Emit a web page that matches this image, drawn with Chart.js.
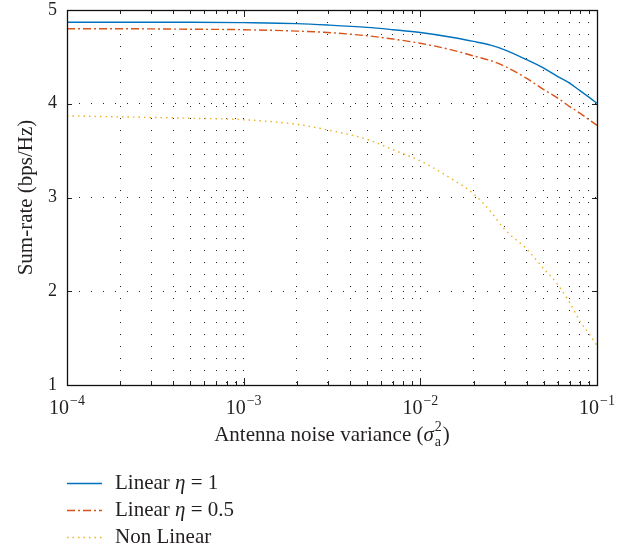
<!DOCTYPE html>
<html>
<head>
<meta charset="utf-8">
<script src="https://cdn.jsdelivr.net/npm/chart.js@4/dist/chart.umd.min.js"></script>
<style>
  body { margin: 0; background: #fff; }
  canvas { display: block; }
</style>
</head>
<body>
<canvas id="rateChart" width="632" height="548"></canvas>
<script>
// Antenna noise variance (x, log scale)
const noiseVar = [1e-4, 2e-4, 5e-4, 1e-3, 2e-3, 3e-3, 5e-3, 7e-3, 1e-2, 1.5e-2, 2e-2, 2.5e-2, 3e-2, 4e-2, 5e-2, 6e-2, 7e-2, 8e-2, 9e-2, 1e-1];

// Sum-rate (bps/Hz)
const rateLinear1  = [4.87, 4.87, 4.87, 4.865, 4.855, 4.84, 4.815, 4.79, 4.76, 4.71, 4.665, 4.625, 4.575, 4.47, 4.38, 4.29, 4.22, 4.14, 4.07, 4.005];
const rateLinear05 = [4.80, 4.80, 4.795, 4.79, 4.775, 4.76, 4.725, 4.69, 4.645, 4.575, 4.51, 4.46, 4.40, 4.27, 4.15, 4.06, 3.97, 3.90, 3.83, 3.77];
const rateNonLin   = [3.87, 3.86, 3.845, 3.83, 3.78, 3.72, 3.62, 3.51, 3.39, 3.20, 3.04, 2.85, 2.66, 2.45, 2.24, 2.07, 1.88, 1.68, 1.55, 1.42];

const xTickExps = [-4, -3, -2, -1];
const yTicks = [1, 2, 3, 4, 5];

const TEXT = '#231f20';
const SERIF = "'Liberation Serif', 'DejaVu Serif', serif";

function toPoints(ys){
  return noiseVar.map((x, i) => ({ x: x, y: ys[i] }));
}

// all decade ticks 1..9 x 10^n
function buildLogTicks(){
  const ticks = [];
  for (let e = -4; e < -1; e++) {
    for (let m = 1; m <= 9; m++) ticks.push({ value: m * Math.pow(10, e), major: m === 1 });
  }
  ticks.push({ value: 1e-1, major: true });
  return ticks;
}

// frame, inside ticks, x labels with superscripts, x title and legend
const decorPlugin = {
  id: 'decor',
  afterDraw(chart){
    const ctx = chart.ctx;
    const a = chart.chartArea;
    const xs = chart.scales.x, ys = chart.scales.y;
    ctx.save();

    // ticks
    ctx.strokeStyle = '#222';
    ctx.lineWidth = 1;
    ctx.beginPath();
    buildLogTicks().forEach(t => {
      const px = Math.round(xs.getPixelForValue(t.value)) + 0.5;
      const len = t.major ? 7 : 4;
      ctx.moveTo(px, a.bottom); ctx.lineTo(px, a.bottom - len);
      ctx.moveTo(px, a.top); ctx.lineTo(px, a.top + len);
    });
    yTicks.forEach(v => {
      const py = Math.round(ys.getPixelForValue(v)) + 0.5;
      ctx.moveTo(a.left, py); ctx.lineTo(a.left + 5, py);
      ctx.moveTo(a.right, py); ctx.lineTo(a.right - 5, py);
    });
    ctx.stroke();

    // frame
    ctx.lineWidth = 1.3;
    ctx.strokeStyle = '#111';
    ctx.strokeRect(Math.round(a.left) + 0.5, Math.round(a.top) + 0.5,
                   Math.round(a.right - a.left), Math.round(a.bottom - a.top));

    // x tick labels 10^n
    ctx.fillStyle = TEXT;
    ctx.textBaseline = 'alphabetic';
    ctx.textAlign = 'left';
    xTickExps.forEach(e => {
      const px = xs.getPixelForValue(Math.pow(10, e));
      ctx.font = '20px ' + SERIF;
      const wBase = ctx.measureText('10').width;
      ctx.font = '14px ' + SERIF;
      const sup = '\u2212' + Math.abs(e);
      const wSup = ctx.measureText(sup).width;
      const x0 = px - (wBase + wSup + 1) / 2;
      ctx.font = '20px ' + SERIF;
      ctx.fillText('10', x0, 414);
      ctx.font = '14px ' + SERIF;
      ctx.fillText(sup, x0 + wBase + 1, 405);
    });

    // x title: Antenna noise variance (sigma_a^2)
    const cx = (a.left + a.right) / 2;
    const base = 441;
    ctx.font = '21px ' + SERIF;
    const p1 = 'Antenna noise variance (';
    const w1 = ctx.measureText(p1).width;
    ctx.font = 'italic 21px ' + SERIF;
    const wSig = ctx.measureText('\u03c3').width;
    ctx.font = '14px ' + SERIF;
    const wSub = Math.max(ctx.measureText('2').width, ctx.measureText('a').width);
    ctx.font = '21px ' + SERIF;
    const wP = ctx.measureText(')').width;
    let x = cx - (w1 + wSig + wSub + 2 + wP) / 2;
    ctx.fillText(p1, x, base); x += w1;
    ctx.font = 'italic 21px ' + SERIF;
    ctx.fillText('\u03c3', x, base); x += wSig + 1;
    ctx.font = '14px ' + SERIF;
    ctx.fillText('2', x, base - 10);
    ctx.fillText('a', x, base + 5); x += wSub + 1;
    ctx.font = '21px ' + SERIF;
    ctx.fillText(')', x, base);

    // legend
    const rows = [
      { ds: 0, parts: [['Linear ', ''], ['\u03b7', 'italic '], [' = 1', '']] },
      { ds: 1, parts: [['Linear ', ''], ['\u03b7', 'italic '], [' = 0.5', '']] },
      { ds: 2, parts: [['Non Linear', '']] }
    ];
    rows.forEach((r, i) => {
      const d = chart.data.datasets[r.ds];
      const y = 483 + i * 27;
      ctx.strokeStyle = d.borderColor;
      ctx.lineWidth = d.borderWidth;
      ctx.setLineDash(d.borderDash || []);
      ctx.beginPath();
      ctx.moveTo(67, y + 0.5); ctx.lineTo(102, y + 0.5);
      ctx.stroke();
      ctx.setLineDash([]);
      ctx.fillStyle = TEXT;
      let tx = 115;
      r.parts.forEach(([txt, style]) => {
        ctx.font = style + '21px ' + SERIF;
        ctx.fillText(txt, tx, y + 6);
        tx += ctx.measureText(txt).width;
      });
    });

    ctx.restore();
  }
};

function renderChart(){
  const ctx = document.getElementById('rateChart').getContext('2d');
  new Chart(ctx, {
    type: 'line',
    data: {
      datasets: [
        { label: 'Linear \u03b7 = 1', data: toPoints(rateLinear1), borderColor: '#0072BD', borderWidth: 1.4 },
        { label: 'Linear \u03b7 = 0.5', data: toPoints(rateLinear05), borderColor: '#D95319', borderWidth: 1.4, borderDash: [8, 3, 2, 3] },
        { label: 'Non Linear', data: toPoints(rateNonLin), borderColor: '#EDB120', borderWidth: 1.4, borderDash: [1.5, 4] }
      ]
    },
    options: {
      responsive: false,
      animation: false,
      events: [],
      cubicInterpolationMode: 'monotone',
      elements: { point: { radius: 0 } },
      layout: { padding: { top: 10, right: 35, bottom: 93, left: 0 } },
      plugins: { legend: { display: false }, tooltip: { enabled: false } },
      scales: {
        x: {
          type: 'logarithmic',
          min: 1e-4,
          max: 1e-1,
          afterBuildTicks: s => { s.ticks = buildLogTicks(); },
          afterFit: s => { s.height = 70; s.paddingLeft = 0; s.paddingRight = 0; },
          ticks: { display: false },
          grid: { color: '#222', lineWidth: 1, drawTicks: false },
          border: { display: false, dash: [1, 11] }
        },
        y: {
          min: 1,
          max: 5,
          afterBuildTicks: s => { s.ticks = yTicks.map(v => ({ value: v })); },
          afterFit: s => { s.width = 67; s.paddingTop = 0; s.paddingBottom = 0; },
          ticks: { color: TEXT, padding: 10, font: { family: SERIF, size: 18 } },
          title: {
            display: true,
            text: 'Sum-rate (bps/Hz)',
            color: TEXT,
            font: { family: SERIF, size: 21 },
            padding: { top: 14, bottom: 0 }
          },
          grid: { color: '#222', lineWidth: 1, drawTicks: false },
          border: { display: false, dash: [1, 11] }
        }
      }
    },
    plugins: [decorPlugin]
  });
}

document.addEventListener('DOMContentLoaded', renderChart);
</script>
</body>
</html>
